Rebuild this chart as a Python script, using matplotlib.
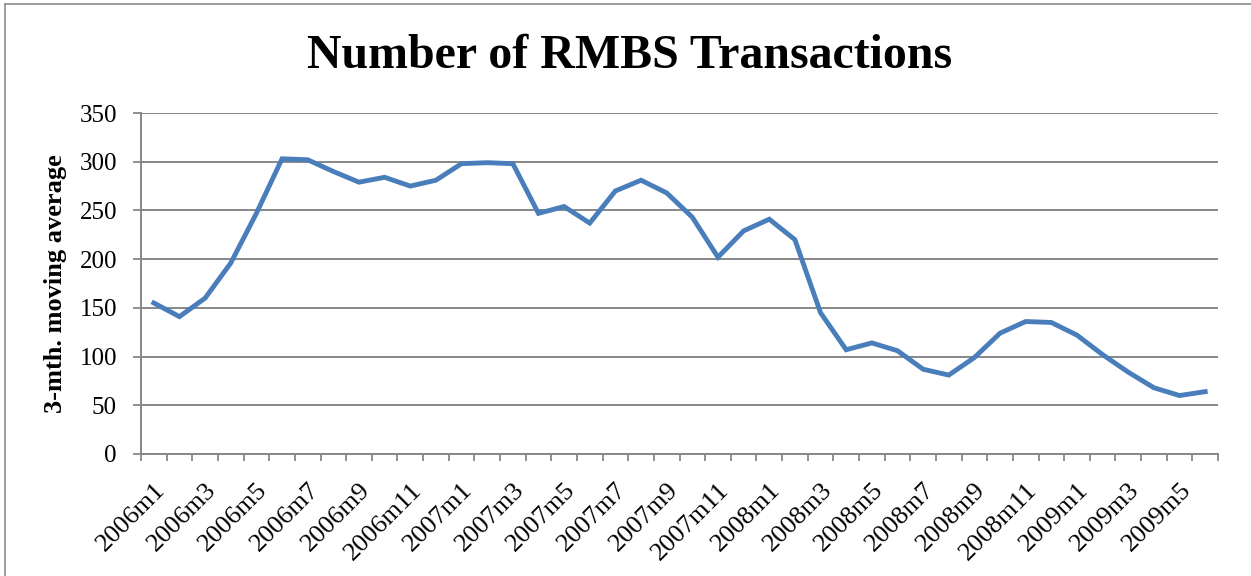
import numpy as np
from matplotlib import pyplot as plt
from matplotlib.lines import Line2D
from matplotlib.transforms import ScaledTranslation

# months 2006m1 .. 2009m6
months = []
for yr in [2006, 2007, 2008, 2009]:
    for m in range(1, 13):
        months.append(f"{yr}m{m}")
months = months[:42]

values = [155, 141, 160, 196, 247, 303, 302, 290, 279, 284,
          275, 281, 298, 299, 298, 247, 254, 237, 270, 281,
          268, 243, 202, 229, 241, 220, 145, 107, 114, 106,
          87, 81, 99, 124, 136, 135, 122, 102, 84, 68,
          60, 64]

plt.rcParams['font.family'] = ['Liberation Serif', 'DejaVu Serif']
grey = "#878787"

W, H = 1251, 576
fig = plt.figure(figsize=(W / 100, H / 100), dpi=100)
# axes box in pixels: x 141..1218, y 113..454
ax = fig.add_axes([141 / W, 1 - 454 / H, (1218 - 141) / W, (454 - 113) / H])

x = np.arange(len(values))
ax.plot(x, values, color="#4A7EBB", linewidth=3.5, solid_joinstyle='miter')

ax.set_xlim(-0.5, len(values) - 0.5)
ax.set_ylim(0, 350)
ax.set_yticks(np.arange(0, 351, 50))
ax.yaxis.grid(True, color=grey, linewidth=1.4)
ax.set_axisbelow(True)

ax.set_xticks(x[::2])
ax.set_xticklabels(months[::2], rotation=45, ha='right', va='top',
                   rotation_mode='anchor')
shift = ScaledTranslation(5 / 100, 0, fig.dpi_scale_trans)
for lab in ax.get_xticklabels():
    lab.set_transform(lab.get_transform() + shift)
ax.set_xticks(np.arange(-0.5, len(values), 1), minor=True)
ax.tick_params(axis='x', which='major', length=0, labelsize=19, pad=18)
ax.tick_params(axis='x', which='minor', length=5, color=grey, width=1.3)
ax.tick_params(axis='y', length=5.8, color=grey, width=1.3, labelsize=18, pad=11.5)

for s in ['top', 'right']:
    ax.spines[s].set_visible(False)
for s in ['left', 'bottom']:
    ax.spines[s].set_color(grey)
    ax.spines[s].set_linewidth(1.4)

ax.set_ylabel("3-mth. moving average", fontsize=19, fontweight='bold')
ax.yaxis.set_label_coords((67 - 141) / 1077, 0.5)

fig.text(629.5 / W, 1 - 68 / H, "Number of RMBS Transactions", fontsize=34.5,
         fontweight='bold', ha='center', va='baseline')

# chart frame (left and top edges visible)
fig.add_artist(Line2D([5 / W, 5 / W], [0, 1 - 4 / H], transform=fig.transFigure,
                      color="#8c8c8c", linewidth=1.2))
fig.add_artist(Line2D([5 / W, 1], [1 - 4 / H, 1 - 4 / H], transform=fig.transFigure,
                      color="#8c8c8c", linewidth=1.2))

fig.savefig("out.png", dpi=100)
